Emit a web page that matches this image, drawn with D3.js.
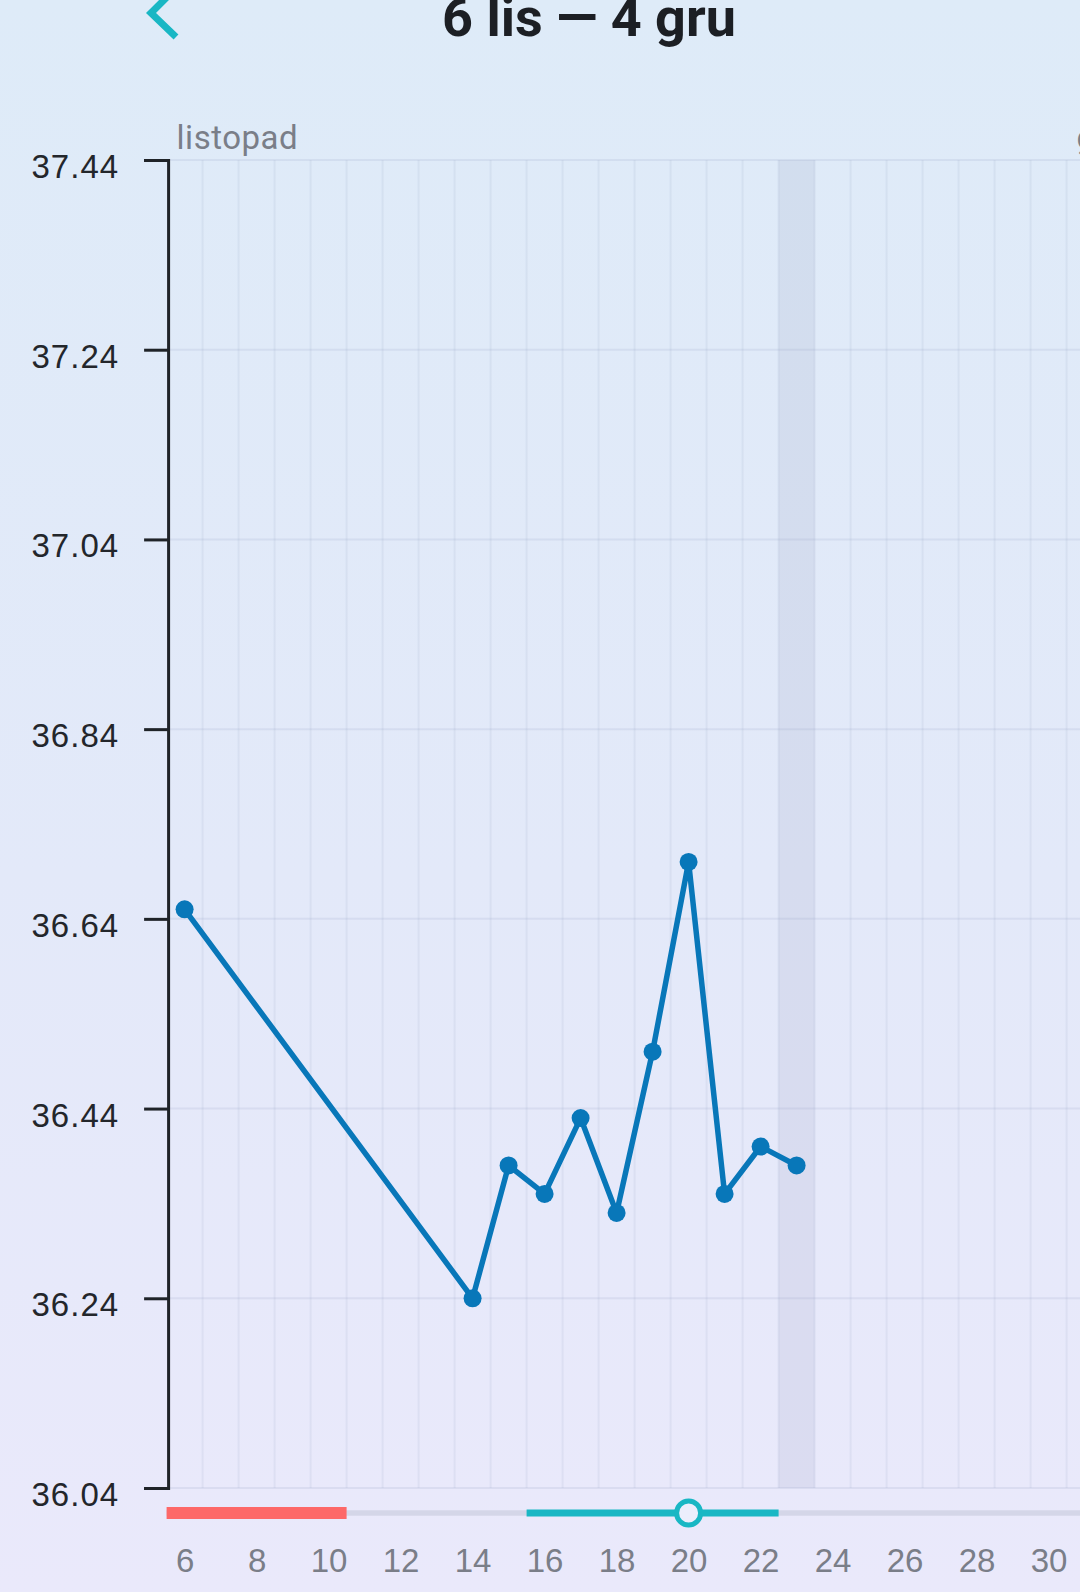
<!DOCTYPE html>
<html>
  <head>
    <meta charset="utf-8">
    <title>Temperatura - cykl</title>
    <script src="https://d3js.org/d3.v7.min.js"></script>
    <style>
      html, body {
        margin: 0;
        padding: 0;
        overflow: hidden;
      }
      body {
        width: 1080px;
        height: 1592px;
        background: linear-gradient(to bottom, #deebf8 0%, #e3e9f9 55%, #eae9fb 100%);
        font-family: Roboto, "Noto Sans", sans-serif;
      }
      .y-axis text {
        font-size: 33px;
        fill: #23262b;
        letter-spacing: 1px;
      }
      .x-axis text {
        font-size: 33px;
        fill: #7a7e88;
      }
      .month-label {
        font-size: 33px;
        fill: #7a7e88;
        letter-spacing: 0.5px;
      }
    </style>
  </head>
  <body>
    <div id="chart"></div>
    <script>
      // header
      const title = "6 lis \u2014 4 gru";

      // months shown above the plot (day numbers continue past 30 for grudzień)
      const monthNames = ["listopad", "grudzień"];
      const monthStarts = [6, 31];

      // temperature readings (day of listopad, °C)
      const tempDays = [6, 14, 15, 16, 17, 18, 19, 20, 21, 22, 23];
      const tempValues = [36.65, 36.24, 36.38, 36.35, 36.43, 36.33, 36.50, 36.70, 36.35, 36.40, 36.38];

      const yTicks = [36.04, 36.24, 36.44, 36.64, 36.84, 37.04, 37.24, 37.44];
      const xTicks = [6, 8, 10, 12, 14, 16, 18, 20, 22, 24, 26, 28, 30];

      // cycle strip
      const periodDays = [6, 10];
      const fertileDays = [16, 22];
      const ovulationDay = 20;
      const todayDay = 23;
      const firstDay = 6, lastDay = 34; // 6 lis .. 4 gru

      const W = 1080, H = 1592;
      const margin = { top: 160, left: 166.6, bottom: 1488 };
      const dayW = 36;

      const svg = d3.select("#chart")
        .append("svg")
        .attr("width", W)
        .attr("height", H);

      const x = d3.scaleLinear()
        .domain([firstDay - 0.5, lastDay + 0.5])
        .range([margin.left, margin.left + (lastDay - firstDay + 1) * dayW]);
      const y = d3.scaleLinear()
        .domain([36.04, 37.44])
        .range([margin.bottom, margin.top]);

      const plot = svg.append("g");

      // today highlight
      plot.append("rect")
        .attr("x", x(todayDay - 0.5))
        .attr("y", y(37.44))
        .attr("width", x(todayDay + 0.5) - x(todayDay - 0.5))
        .attr("height", y(36.04) - y(37.44))
        .attr("fill", "rgba(120,135,170,0.12)");

      // vertical grid lines at day borders
      plot.selectAll(".vgrid")
        .data(d3.range(firstDay, lastDay + 1))
        .enter()
        .append("line")
        .attr("x1", d => x(d + 0.5))
        .attr("x2", d => x(d + 0.5))
        .attr("y1", y(37.44))
        .attr("y2", y(36.04))
        .attr("stroke", "rgba(140,155,190,0.12)")
        .attr("stroke-width", 2);

      // horizontal grid lines
      plot.selectAll(".hgrid")
        .data(yTicks)
        .enter()
        .append("line")
        .attr("x1", x(firstDay - 0.5))
        .attr("x2", W)
        .attr("y1", d => y(d))
        .attr("y2", d => y(d))
        .attr("stroke", "rgba(140,155,190,0.16)")
        .attr("stroke-width", 2);

      // month labels
      svg.selectAll(".month-label")
        .data(monthNames)
        .enter()
        .append("text")
        .attr("class", "month-label")
        .attr("x", (d, i) => x(monthStarts[i] - 0.5) + 10)
        .attr("y", 149)
        .text(d => d);

      // y axis
      const yAxis = svg.append("g")
        .attr("class", "y-axis")
        .attr("transform", `translate(${x(firstDay - 0.5) + 1.5}, 0)`)
        .call(d3.axisLeft(y)
          .tickValues(yTicks)
          .tickSize(24)
          .tickPadding(25)
          .tickFormat(d3.format(".2f")));
      yAxis.select(".domain").attr("stroke", "#1f2328").attr("stroke-width", 3);
      yAxis.selectAll(".tick line").attr("stroke", "#1f2328").attr("stroke-width", 3);
      yAxis.selectAll("text").attr("dy", "0.53em").attr("font-family", null).attr("font-size", null);

      // x axis labels
      const xAxis = svg.append("g")
        .attr("class", "x-axis")
        .attr("transform", `translate(0, ${margin.bottom})`)
        .call(d3.axisBottom(x).tickValues(xTicks).tickSize(0).tickPadding(61));
      xAxis.select(".domain").remove();
      xAxis.selectAll("text").attr("font-family", null).attr("font-size", null);

      // cycle strip
      const stripY = 1513;
      svg.append("line")
        .attr("x1", x(firstDay - 0.5))
        .attr("x2", W)
        .attr("y1", stripY)
        .attr("y2", stripY)
        .attr("stroke", "#d4d6e8")
        .attr("stroke-width", 5.5);
      svg.append("line")
        .attr("x1", x(periodDays[0] - 0.5))
        .attr("x2", x(periodDays[1] + 0.5))
        .attr("y1", stripY)
        .attr("y2", stripY)
        .attr("stroke", "#fd6868")
        .attr("stroke-width", 12);
      svg.append("line")
        .attr("x1", x(fertileDays[0] - 0.5))
        .attr("x2", x(fertileDays[1] + 0.5))
        .attr("y1", stripY)
        .attr("y2", stripY)
        .attr("stroke", "#19b7c4")
        .attr("stroke-width", 7);
      svg.append("circle")
        .attr("cx", x(ovulationDay))
        .attr("cy", stripY)
        .attr("r", 12)
        .attr("fill", "#eceefc")
        .attr("stroke", "#19b7c4")
        .attr("stroke-width", 5);

      // temperature line
      const pts = tempDays.map((d, i) => [d, tempValues[i]]);
      svg.append("path")
        .datum(pts)
        .attr("fill", "none")
        .attr("stroke", "#0877b9")
        .attr("stroke-width", 5.5)
        .attr("stroke-linejoin", "round")
        .attr("d", d3.line().x(d => x(d[0])).y(d => y(d[1])));
      svg.selectAll(".dot")
        .data(pts)
        .enter()
        .append("circle")
        .attr("cx", d => x(d[0]))
        .attr("cy", d => y(d[1]))
        .attr("r", 9)
        .attr("fill", "#0877b9");

      // header: back chevron + title
      svg.append("path")
        .attr("d", "M176,-12 L151,13 L176,37")
        .attr("fill", "none")
        .attr("stroke", "#19b7c4")
        .attr("stroke-width", 7);
      svg.append("text")
        .attr("x", 589)
        .attr("y", 36)
        .attr("text-anchor", "middle")
        .attr("font-size", 54)
        .attr("font-weight", "bold")
        .attr("fill", "#1c1f24")
        .text(title);
    </script>
  </body>
</html>
